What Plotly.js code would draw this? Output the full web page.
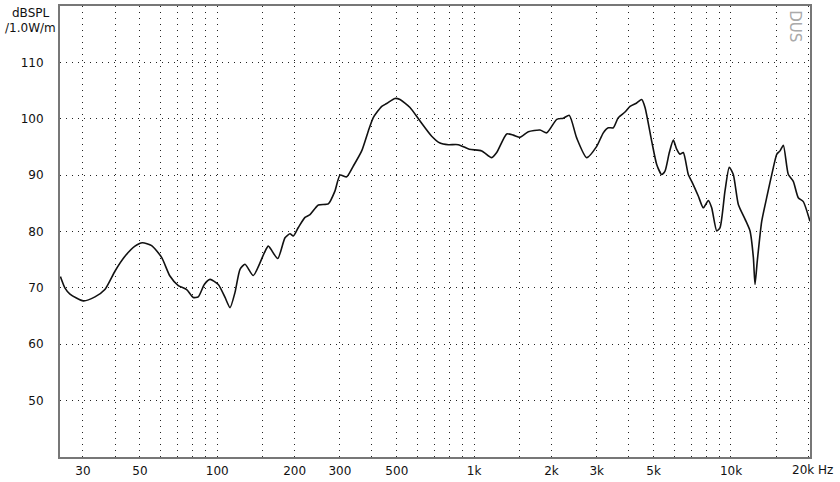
<!DOCTYPE html>
<html>
<head>
<meta charset="utf-8">
<script src="https://cdn.plot.ly/plotly-3.0.1.min.js"></script>
<style>html,body{margin:0;padding:0;background:#fff;}#chart{width:840px;height:482px;}</style>
</head>
<body>
<div id="chart"></div>
<script>
// Frequency (Hz) and SPL (dB)
const freq = [24.5,25.5,26.7,30.1,33.4,36.5,40.0,43.7,47.8,51.1,55.5,60.7,65.4,70.5,76.0,80.6,84.3,89.0,93.7,100.9,107.2,112.1,117.2,122.6,128.2,138.1,152.4,158.0,171.9,183.5,191.9,197.6,206.7,219.5,229.6,247.4,270.5,287.2,300.5,319.0,338.4,364.9,387.1,404.9,436.7,456.5,491.8,514.4,562.7,615.5,683.5,736.3,793.1,867.6,957.5,1070,1170,1224,1339,1420,1508,1625,1805,1917,2097,2224,2347,2507,2743,3000,3183,3329,3481,3641,3867,4045,4294,4492,4627,4913,5137,5372,5534,5753,5963,6145,6330,6521,6820,7031,7458,7801,8159,8411,8799,9066,9477,9848,10210,10680,11340,11860,12220,12400,12660,13170,13770,14610,15070,15520,15990,16720,17480,18280,19120,20300];
const spl = [72.0,70.0,68.9,67.7,68.4,69.7,73.0,75.6,77.4,78.0,77.5,75.4,72.1,70.4,69.7,68.3,68.4,70.6,71.5,70.6,68.3,66.5,69.2,73.3,74.2,72.2,76.2,77.4,75.2,78.9,79.6,79.2,80.7,82.5,83.0,84.7,84.9,87.2,90.0,89.7,91.6,94.3,97.8,100.2,102.2,102.7,103.6,103.4,102.0,99.6,96.9,95.7,95.4,95.4,94.6,94.3,93.1,94.0,97.3,97.1,96.7,97.7,98.0,97.5,99.9,100.1,100.6,96.6,93.1,95.1,97.5,98.4,98.4,100.2,101.2,102.2,102.8,103.4,102.0,96.0,91.9,90.1,90.7,94.0,96.2,94.6,93.7,94.0,90.1,88.9,86.3,84.2,85.5,84.2,80.1,80.7,87.2,91.4,90.1,84.8,82.2,80.1,75.4,70.6,74.8,81.8,86.0,91.3,93.7,94.3,95.3,90.1,88.9,86.0,85.3,81.8];

// Axis ticks / gridlines
const xTickVals = [30,40,50,60,70,80,90,100,150,200,300,400,500,600,700,800,900,1000,1500,2000,3000,4000,5000,6000,7000,8000,9000,10000,15000,20000];
const xTickText = ['30','','50','','','','','100','','200','300','','500','','','','','1k','','2k','3k','','5k','','','','','10k','',''];
const xLastLabel = '20k Hz';
const yTickVals = [50,60,70,80,90,100,110];
const yTickText = ['50','60','70','80','90','100','110'];
const yUnitLines = ['dBSPL','/1.0W/m'];
const logoText = 'DUS';

const font = {family:'DejaVu Sans, sans-serif', size:12, color:'#111'};

const trace = {
  x: freq, y: spl, type:'scatter', mode:'lines',
  line:{color:'#111', width:1.6, shape:'spline', smoothing:0.6},
  hoverinfo:'skip'
};

const layout = {
  width:840, height:482,
  margin:{l:60, r:30, t:6, b:25, pad:0},
  paper_bgcolor:'#fff', plot_bgcolor:'#fff',
  showlegend:false,
  font: font,
  xaxis:{
    type:'log', range:[1.3876, 4.3076],
    tickmode:'array', tickvals:xTickVals, ticktext:xTickText,
    showgrid:true, gridcolor:'#222', gridwidth:1, griddash:'1px,5px',
    showline:true, linecolor:'#777', linewidth:2, mirror:true,
    ticks:'outside', ticklen:2, tickcolor:'rgba(0,0,0,0)',
    zeroline:false, tickfont:font, fixedrange:true
  },
  yaxis:{
    range:[40,120],
    tickmode:'array', tickvals:yTickVals, ticktext:yTickText,
    showgrid:true, gridcolor:'#222', gridwidth:1, griddash:'1px,5px',
    showline:true, linecolor:'#777', linewidth:2, mirror:true,
    ticks:'outside', ticklen:12, tickcolor:'rgba(0,0,0,0)',
    zeroline:false, tickfont:font, fixedrange:true
  },
  annotations:[
    {xref:'paper', yref:'paper', x:-0.039, y:0.985, text:yUnitLines[0], showarrow:false, xanchor:'center', yanchor:'middle', font:font},
    {xref:'paper', yref:'paper', x:-0.039, y:0.952, text:yUnitLines[1], showarrow:false, xanchor:'center', yanchor:'middle', font:font},
    {xref:'paper', yref:'paper', x:0.9733, y:0, yshift:-13, text:xLastLabel, showarrow:false, xanchor:'left', yanchor:'middle', font:font},
    {xref:'paper', yref:'paper', x:0.98, y:0.955, text:logoText, textangle:90, showarrow:false, xanchor:'center', yanchor:'middle', font:{family:'DejaVu Sans, sans-serif', size:15, color:'#aaa'}}
  ]
};

Plotly.newPlot('chart', [trace], layout, {displayModeBar:false, staticPlot:true});
</script>
</body>
</html>
